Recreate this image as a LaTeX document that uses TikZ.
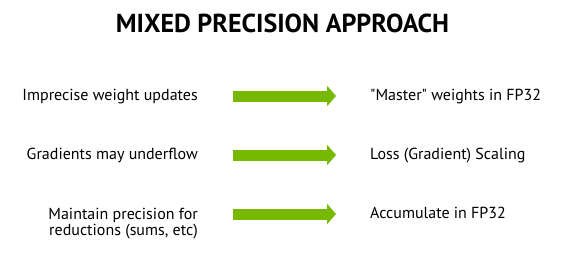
\documentclass[tikz,border=0pt]{standalone}
\usepackage{fontspec}
\setmainfont{PT Sans}
\usepackage{tikz}
\usetikzlibrary{arrows.meta,positioning}
\definecolor{nvgreen}{HTML}{76B900}

\begin{document}
\begin{tikzpicture}[x=1pt, y=-1pt,
  heading/.style={font=\fontsize{26}{30}\selectfont\bfseries, inner sep=0pt, anchor=base},
  cause/.style={font=\fontsize{16}{16}\selectfont, inner sep=0pt, anchor=base east, align=right},
  remedy/.style={font=\fontsize{16}{16}\selectfont, inner sep=0pt, anchor=base west},
  push/.style={-{Triangle[length=9pt,width=20pt]}, line width=11pt, draw=nvgreen}
]
\useasboundingbox (0,0) rectangle (571,258);

% Title
\node[heading] (title) at (282.5,32) {MIXED PRECISION APPROACH};

% Problems
\node[cause] (upd)  at (198,100)   {Imprecise weight updates};
\node[cause] (grad) at (198,159.5) {Gradients may underflow};
\node[cause] (red)  at (198,235)   {Maintain precision for\\reductions (sums, etc)};

% Remedies
\node[remedy] (master) at (370,100)   {\textquotedbl Master\textquotedbl{} weights in FP32};
\node[remedy] (loss)   at (370,159.5) {Loss (Gradient) Scaling};
\node[remedy] (acc)    at (370,218)   {Accumulate in FP32};

% Arrows
\coordinate (updA)  at (233,96);   \coordinate (updB)  at (336,96);
\coordinate (gradA) at (233,155);  \coordinate (gradB) at (336,155);
\coordinate (redA)  at (233,214);  \coordinate (redB)  at (336,214);
\foreach \r in {upd, grad, red} {
  \draw[push] (\r A) -- (\r B);
}

\end{tikzpicture}
\end{document}
